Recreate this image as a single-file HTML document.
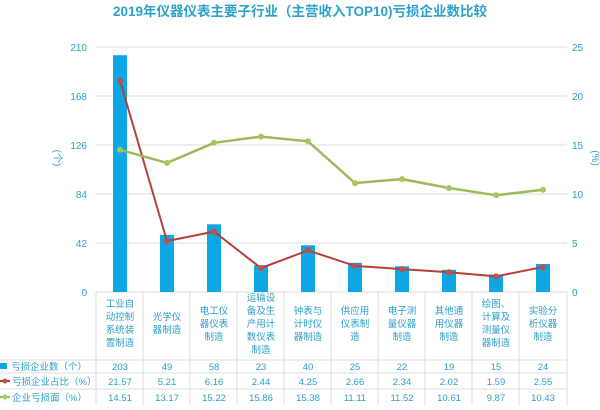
<!DOCTYPE html>
<html><head><meta charset="utf-8"><style>
body{margin:0;background:#fff;}
svg text{font-family:"Liberation Sans","Noto Sans CJK SC",sans-serif;fill:#2a9fc8;}
</style></head><body>
<svg width="600" height="405" xmlns="http://www.w3.org/2000/svg">
<text x="300" y="16" text-anchor="middle" font-size="13.5" font-weight="bold" style="fill:#2aa3c8">2019年仪器仪表主要子行业（主营收入TOP10)亏损企业数比较</text>
<g stroke="#dcdcdc" stroke-width="1">
<line x1="96" y1="47" x2="567" y2="47"/><line x1="96" y1="96" x2="567" y2="96"/><line x1="96" y1="145" x2="567" y2="145"/><line x1="96" y1="194" x2="567" y2="194"/><line x1="96" y1="243" x2="567" y2="243"/>
<line x1="96" y1="292" x2="567" y2="292"/>
</g>
<g font-size="10" text-anchor="end">
<text x="87" y="51">210</text><text x="87" y="100">168</text><text x="87" y="149">126</text><text x="87" y="198">84</text><text x="87" y="247">42</text><text x="87" y="296">0</text>
</g>
<g font-size="10" text-anchor="start">
<text x="572" y="51">25</text><text x="572" y="100">20</text><text x="572" y="149">15</text><text x="572" y="198">10</text><text x="572" y="247">5</text><text x="572" y="296">0</text>
</g>
<text x="54" y="158" font-size="10" transform="rotate(90 54 158)" text-anchor="middle">(个)</text>
<text x="592" y="158" font-size="10" transform="rotate(90 592 158)" text-anchor="middle">(%)</text>
<g fill="#0fa6e4">
<rect x="113" y="55.2" width="14" height="236.8"/>
<rect x="160" y="234.8" width="14" height="57.2"/>
<rect x="207" y="224.3" width="14" height="67.7"/>
<rect x="254" y="265.2" width="14" height="26.8"/>
<rect x="301" y="245.3" width="14" height="46.7"/>
<rect x="348" y="262.8" width="14" height="29.2"/>
<rect x="395" y="266.3" width="14" height="25.7"/>
<rect x="442" y="269.8" width="14" height="22.2"/>
<rect x="489" y="274.5" width="14" height="17.5"/>
<rect x="536" y="264" width="14" height="28"/>
</g>
<polyline fill="none" stroke="#b5403a" stroke-width="2" points="120,80.6 167,241.1 214,231.6 261,268.1 308,250.4 355,265.9 402,269.1 449,272.2 496,276.4 543,267"/>
<g fill="#c0504d"><circle cx="120" cy="80.6" r="3"/><circle cx="167" cy="241.1" r="3"/><circle cx="214" cy="231.6" r="3"/><circle cx="261" cy="268.1" r="3"/><circle cx="308" cy="250.4" r="3"/><circle cx="355" cy="265.9" r="3"/><circle cx="402" cy="269.1" r="3"/><circle cx="449" cy="272.2" r="3"/><circle cx="496" cy="276.4" r="3"/><circle cx="543" cy="267" r="3"/></g>
<polyline fill="none" stroke="#9bbb59" stroke-width="2.5" points="120,149.8 167,162.9 214,142.8 261,136.6 308,141.3 355,183.1 402,179.1 449,188 496,195.3 543,189.8"/>
<g fill="#a8c65e"><circle cx="120" cy="149.8" r="3"/><circle cx="167" cy="162.9" r="3"/><circle cx="214" cy="142.8" r="3"/><circle cx="261" cy="136.6" r="3"/><circle cx="308" cy="141.3" r="3"/><circle cx="355" cy="183.1" r="3"/><circle cx="402" cy="179.1" r="3"/><circle cx="449" cy="188" r="3"/><circle cx="496" cy="195.3" r="3"/><circle cx="543" cy="189.8" r="3"/></g>
<g stroke="#dcdcdc" stroke-width="1">
<line x1="96" y1="292" x2="96" y2="405"/><line x1="143" y1="292" x2="143" y2="405"/><line x1="190" y1="292" x2="190" y2="405"/><line x1="237" y1="292" x2="237" y2="405"/><line x1="284" y1="292" x2="284" y2="405"/><line x1="331" y1="292" x2="331" y2="405"/><line x1="378" y1="292" x2="378" y2="405"/><line x1="425" y1="292" x2="425" y2="405"/><line x1="472" y1="292" x2="472" y2="405"/><line x1="519" y1="292" x2="519" y2="405"/><line x1="567" y1="292" x2="567" y2="405"/>
<line x1="0" y1="360" x2="567" y2="360"/><line x1="0" y1="373" x2="567" y2="373"/><line x1="0" y1="389" x2="567" y2="389"/>
</g>
<g font-size="9.5" text-anchor="middle">
<text x="120"><tspan x="120" y="307">工业自</tspan><tspan x="120" y="320">动控制</tspan><tspan x="120" y="333">系统装</tspan><tspan x="120" y="346">置制造</tspan></text>
<text><tspan x="167" y="320">光学仪</tspan><tspan x="167" y="333">器制造</tspan></text>
<text><tspan x="214" y="314">电工仪</tspan><tspan x="214" y="327">器仪表</tspan><tspan x="214" y="340">制造</tspan></text>
<text><tspan x="261" y="301">运输设</tspan><tspan x="261" y="314">备及生</tspan><tspan x="261" y="327">产用计</tspan><tspan x="261" y="340">数仪表</tspan><tspan x="261" y="353">制造</tspan></text>
<text><tspan x="308" y="314">钟表与</tspan><tspan x="308" y="327">计时仪</tspan><tspan x="308" y="340">器制造</tspan></text>
<text><tspan x="355" y="314">供应用</tspan><tspan x="355" y="327">仪表制</tspan><tspan x="355" y="340">造</tspan></text>
<text><tspan x="402" y="314">电子测</tspan><tspan x="402" y="327">量仪器</tspan><tspan x="402" y="340">制造</tspan></text>
<text><tspan x="449" y="314">其他通</tspan><tspan x="449" y="327">用仪器</tspan><tspan x="449" y="340">制造</tspan></text>
<text><tspan x="496" y="307">绘图、</tspan><tspan x="496" y="320">计算及</tspan><tspan x="496" y="333">测量仪</tspan><tspan x="496" y="346">器制造</tspan></text>
<text><tspan x="543" y="314">实验分</tspan><tspan x="543" y="327">析仪器</tspan><tspan x="543" y="340">制造</tspan></text>
</g>
<g font-size="9.5" text-anchor="middle">
<text y="370"><tspan x="120">203</tspan><tspan x="167">49</tspan><tspan x="214">58</tspan><tspan x="261">23</tspan><tspan x="308">40</tspan><tspan x="355">25</tspan><tspan x="402">22</tspan><tspan x="449">19</tspan><tspan x="496">15</tspan><tspan x="543">24</tspan></text>
<text y="385"><tspan x="120">21.57</tspan><tspan x="167">5.21</tspan><tspan x="214">6.16</tspan><tspan x="261">2.44</tspan><tspan x="308">4.25</tspan><tspan x="355">2.66</tspan><tspan x="402">2.34</tspan><tspan x="449">2.02</tspan><tspan x="496">1.59</tspan><tspan x="543">2.55</tspan></text>
<text y="401"><tspan x="120">14.51</tspan><tspan x="167">13.17</tspan><tspan x="214">15.22</tspan><tspan x="261">15.86</tspan><tspan x="308">15.38</tspan><tspan x="355">11.11</tspan><tspan x="402">11.52</tspan><tspan x="449">10.61</tspan><tspan x="496">9.87</tspan><tspan x="543">10.43</tspan></text>
</g>
<rect x="0" y="363" width="7" height="6" fill="#0fa6e4"/>
<line x1="0" y1="381" x2="10" y2="381" stroke="#b5403a" stroke-width="2"/><circle cx="5" cy="381" r="2.5" fill="#c0504d"/>
<line x1="0" y1="397" x2="10" y2="397" stroke="#9bbb59" stroke-width="2"/><circle cx="5" cy="397" r="2.5" fill="#a8c65e"/>
<g font-size="9.5"><text x="11" y="370">亏损企业数（个）</text><text x="12" y="385">亏损企业占比（%）</text><text x="12" y="401">企业亏损面（%）</text></g>
</svg>
</body></html>
